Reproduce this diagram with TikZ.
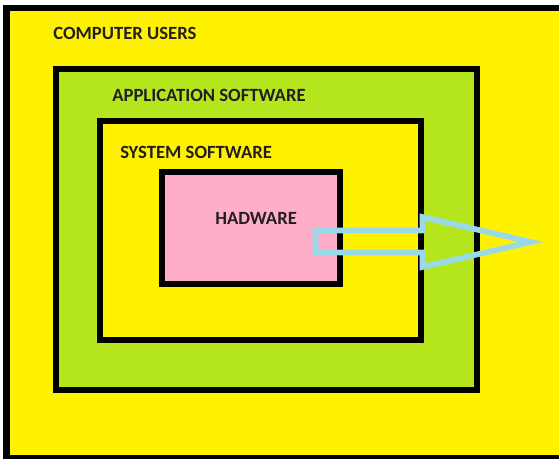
\documentclass[tikz,border=0pt]{standalone}
\usepackage{fontspec}
\setmainfont{Carlito}
\usetikzlibrary{positioning}

\definecolor{paintyellow}{HTML}{FFF200}
\definecolor{paintlime}{HTML}{B5E61D}
\definecolor{paintpink}{HTML}{FFAEC9}
\definecolor{paintblue}{HTML}{99D9EA}
\definecolor{labelink}{HTML}{231F20}

\begin{document}
\begin{tikzpicture}[x=0.75pt,y=-0.75pt,
    layer/.style={draw=black,line width=4.5pt,inner sep=0pt},
    caption/.style={anchor=base west,inner sep=0pt,text=labelink,
        font=\bfseries\fontsize{14}{17}\selectfont}]
    \useasboundingbox (0,0) rectangle (559,458);
    \fill[white] (0,0) rectangle (559,458);
    % outermost layer, open on the right
    \fill[paintyellow] (6.5,8) rectangle (559,458);
    \draw[line width=5pt] (559,8) -- (6.5,8) -- (6.5,458.5) -- (559,458.5);
    % nested layers
    \node[layer,fill=paintlime,minimum width=315.75pt,minimum height=240.75pt] (app) at (266.5,229.5) {};
    \node[layer,fill=paintyellow,minimum width=240.75pt,minimum height=164.25pt] (sys) at (260.5,230.5) {};
    \node[layer,fill=paintpink,minimum width=133.5pt,minimum height=84pt] (hw) at (250.5,227.5) {};
    % labels
    \node[caption] (users) at (53,39) {COMPUTER USERS};
    \node[caption] (applbl) at (112,101) {APPLICATION SOFTWARE};
    \node[caption] (syslbl) at (120,158) {SYSTEM SOFTWARE};
    \node[caption] (hwlbl) at (215,224) {HADWARE};
    % block arrow out of the hardware
    \draw[paintblue,line width=4.25pt,line join=miter]
        (315.5,230.5) -- (422.5,230.5) -- (422.5,217) -- (531,242)
        -- (422.5,267) -- (422.5,252.5) -- (315.5,252.5) -- cycle;
\end{tikzpicture}
\end{document}
